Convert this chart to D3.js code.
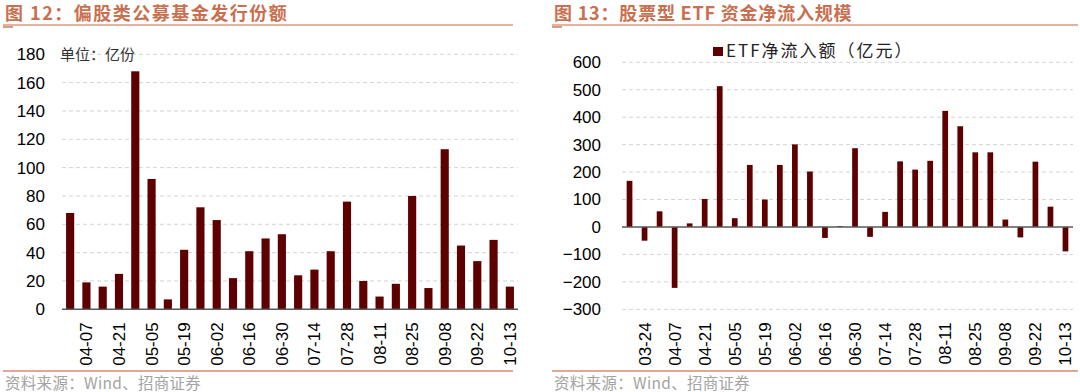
<!DOCTYPE html>
<html><head><meta charset="utf-8">
<script src="https://cdn.jsdelivr.net/npm/d3@7"></script>
<style>
html,body{margin:0;padding:0;background:#fff;}
svg{display:block;}
</style></head>
<body>
<svg id="c" width="1080" height="392"></svg>
<script>
// ---- data ----
const leftDates = ["03-31","04-07","04-14","04-21","04-28","05-05","05-12","05-19","05-26","06-02","06-09","06-16","06-23","06-30","07-07","07-14","07-21","07-28","08-04","08-11","08-18","08-25","09-01","09-08","09-15","09-22","09-29","10-13"];
const leftValues = [68,19,16,25,168,92,7,42,72,63,22,41,50,53,24,28,41,76,20,9,18,80,15,113,45,34,49,16];
const leftTicks = [0,20,40,60,80,100,120,140,160,180];

const rightDates = ["03-17","03-24","03-31","04-07","04-14","04-21","04-28","05-05","05-12","05-19","05-26","06-02","06-09","06-16","06-23","06-30","07-07","07-14","07-21","07-28","08-04","08-11","08-18","08-25","09-01","09-08","09-15","09-22","09-29","10-13"];
const rightValues = [168,-50,57,-222,13,102,513,32,226,100,226,301,202,-40,3,287,-36,55,239,209,241,423,367,272,272,27,-38,238,74,-89];
const rightTicks = [-300,-200,-100,0,100,200,300,400,500,600];

const leftTitle = "图 12：偏股类公募基金发行份额";
const rightTitle = "图 13：股票型 ETF 资金净流入规模";
const unitLabel = "单位：亿份";
const legendLabel = "ETF净流入额（亿元）";
const sourceLabel = "资料来源：Wind、招商证券";

// ---- styles ----
const barColor = "#5e0000";
const titleColor = "#c8704f";
const ruleColor = "#dc9880";
const numFont = "'Liberation Sans', Arial, sans-serif";
const cjkFont = "'Noto Sans CJK SC', sans-serif";

const svg = d3.select("#c");

function panel(opt){
  const g = svg.append("g");
  // title
  g.append("text").attr("x", opt.x0 + 2).attr("y", 20)
    .attr("font-family", cjkFont).attr("font-weight", "bold")
    .attr("font-size", 18).attr("letter-spacing", opt.titleSpacing)
    .attr("fill", titleColor).text(opt.title);
  g.append("line").attr("x1", opt.x0).attr("x2", opt.x1).attr("y1", 25).attr("y2", 25)
    .attr("stroke", ruleColor).attr("stroke-width", 1.7);
  g.append("line").attr("x1", opt.x0).attr("x2", opt.x0 + 10).attr("y1", 27).attr("y2", 27)
    .attr("stroke", "#c0654a").attr("stroke-width", 1.3);
  // footer
  g.append("line").attr("x1", opt.x0).attr("x2", opt.x1).attr("y1", 371).attr("y2", 371)
    .attr("stroke", "#d98870").attr("stroke-width", 1.6);
  g.append("text").attr("x", opt.x0 + 2).attr("y", 389)
    .attr("font-family", cjkFont).attr("font-size", 15.5).attr("letter-spacing", 0.3)
    .attr("fill", "#a3a3a3").text(sourceLabel);

  const x = d3.scaleBand().domain(opt.dates).range([opt.px0, opt.px1])
    .paddingInner(opt.pad).paddingOuter(opt.pad/2);
  const y = d3.scaleLinear().domain(opt.domain).range([309.3, opt.yTop]);

  // grid
  g.append("g").selectAll("line").data(opt.ticks.filter(t => t !== 0)).join("line")
    .attr("x1", opt.px0).attr("x2", opt.px1)
    .attr("y1", d => y(d)).attr("y2", d => y(d))
    .attr("stroke", "#d4d4d4").attr("stroke-width", 1).attr("stroke-dasharray", "4,3");

  // y axis
  const ya = g.append("g").attr("transform", `translate(${opt.px0},0)`)
    .call(d3.axisLeft(y).tickValues(opt.ticks).tickSize(0).tickPadding(opt.tickPad));
  ya.select(".domain").remove();
  ya.selectAll("text").attr("font-family", numFont).attr("font-size", 17).attr("fill", "#000");

  // bars
  g.append("g").selectAll("rect").data(opt.values).join("rect")
    .attr("x", (d,i) => x(opt.dates[i]))
    .attr("width", x.bandwidth())
    .attr("y", d => y(Math.max(0, d)))
    .attr("height", d => Math.abs(y(d) - y(0)))
    .attr("fill", barColor);

  // zero line
  g.append("line").attr("x1", opt.px0).attr("x2", opt.px1)
    .attr("y1", y(0)).attr("y2", y(0)).attr("stroke", "#595959").attr("stroke-width", 1.5);

  // x axis (labels at bottom of plot)
  const labelled = opt.dates.filter((d,i) => i % 2 === 1);
  const xa = g.append("g").attr("transform", `translate(0,309.3)`)
    .call(d3.axisBottom(x).tickValues(labelled).tickSize(0));
  xa.select(".domain").remove();
  xa.selectAll("text")
    .attr("font-family", numFont).attr("font-size", 17).attr("fill", "#000")
    .attr("transform", "rotate(-90)")
    .attr("text-anchor", "end")
    .attr("x", -13).attr("y", 0).attr("dy", "0.35em");
  return g;
}

const gl = panel({x0:3, x1:513, px0:62, px1:518, dates:leftDates, values:leftValues,
  ticks:leftTicks, domain:[0,180], yTop:54.3, pad:0.5, tickPad:17, title:leftTitle, titleSpacing:1.5});
gl.append("text").attr("x", 60).attr("y", 54.5).attr("dy", "0.35em")
  .attr("font-family", cjkFont).attr("font-size", 15).attr("fill", "#333").text(unitLabel);

const gr = panel({x0:552, x1:1078, px0:622, px1:1073, dates:rightDates, values:rightValues,
  ticks:rightTicks, domain:[-300,600], yTop:62.3, pad:0.62, tickPad:21, title:rightTitle, titleSpacing:0.8});
gr.append("rect").attr("x", 713).attr("y", 47).attr("width", 10).attr("height", 9).attr("fill", barColor);
gr.append("text").attr("x", 726).attr("y", 51.5).attr("dy", "0.35em")
  .attr("font-family", cjkFont).attr("font-size", 17).attr("letter-spacing", 2)
  .attr("fill", "#222").text(legendLabel);
</script>
</body></html>
